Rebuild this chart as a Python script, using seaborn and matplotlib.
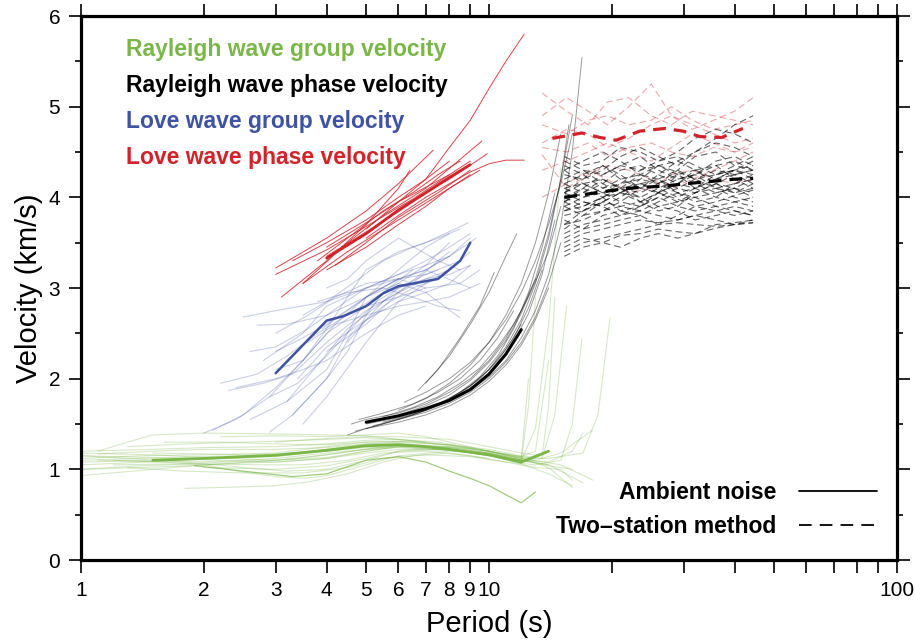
import matplotlib.pyplot as plt
from matplotlib.lines import Line2D
from matplotlib.ticker import MultipleLocator, NullLocator
import pandas as pd
import seaborn as sns

GREEN = "#7ab648"
BLUE = "#3f53a2"
RED = "#d1232a"
BLACK = "#000000"

# ---- Rayleigh wave group velocity (ambient noise, green) ----
rg_periods = [
    [1.0, 1.3, 1.7, 2.2, 3.0, 4.0, 5.0, 6.0, 8.0, 10.0, 12.0],
    [1.0, 1.4, 2.0, 3.0, 4.0, 5.0, 6.5, 8.0, 10.0, 12.0, 13.0],
    [1.0, 1.5, 2.0, 2.5, 3.0, 4.0, 5.0, 6.0, 8.0, 10.0, 12.0],
    [1.1, 1.3, 1.5, 2.0, 3.0, 4.0, 5.0, 6.0, 7.0],
    [1.1, 1.5, 2.0, 3.0, 4.0, 5.0, 6.0, 8.0, 10.0, 12.0, 14.0, 16.0],
    [1.8, 2.2, 2.6, 3.0, 3.6, 4.5, 5.5, 6.5, 8.0, 10.0],
    [1.0, 1.3, 1.8, 2.5, 3.2, 4.0, 5.0, 6.0, 8.0, 10.0, 12.0, 14.0, 17.0],
    [1.2, 1.6, 2.0, 2.5, 3.0, 3.5, 4.0, 5.0, 6.0, 8.0, 10.0, 12.0, 12.5, 13.0],
    [1.0, 1.5, 2.0, 3.0, 4.0, 5.0, 6.0, 7.0, 8.0, 10.0, 12.0, 13.0, 14.0, 15.0],
    [1.3, 1.8, 2.5, 3.0, 4.0, 5.0, 6.0, 8.0, 10.0, 12.0, 13.5, 14.5, 15.5],
    [1.0, 1.4, 2.0, 2.7, 3.5, 4.5, 5.5, 7.0, 9.0, 11.0, 13.0, 15.0, 16.0, 16.9],
    [1.5, 2.0, 2.5, 3.0, 4.0, 5.0, 6.0, 7.0, 9.0, 11.0, 13.0, 15.0, 17.9],
    [2.0, 2.5, 3.0, 4.0, 5.0, 6.0, 7.0, 8.0, 10.0, 12.0, 14.0, 16.0],
    [1.0, 1.5, 2.0, 3.0, 4.0, 5.0, 6.0, 8.0, 10.0, 12.0, 14.0, 17.0, 18.5, 19.8],
    [2.2, 3.0, 4.0, 5.0, 6.0, 7.0, 8.0, 10.0, 11.0, 12.0, 12.5],
    [1.1, 1.6, 2.3, 3.0, 4.0, 5.0, 6.0, 8.0, 10.0, 12.0, 14.0, 16.0, 17.0],
    [3.0, 4.0, 5.0, 6.0, 8.0, 10.0, 12.0, 13.5, 14.0, 14.5],
    [1.3, 1.8, 2.5, 3.5, 4.5, 5.5, 7.0, 9.0, 11.0, 13.0, 15.0, 16.0],
    [1.0, 1.4, 2.0, 3.0, 4.0, 5.0, 6.0, 8.0, 10.0, 12.0, 14.0],
    [1.0, 1.5, 2.0, 3.0, 4.0, 5.0, 6.0, 7.5, 9.0, 11.0, 13.0],
    [1.2, 1.7, 2.3, 3.0, 4.0, 5.0, 6.0, 8.0, 10.0, 12.0, 15.0, 18.0],
    [1.0, 1.4, 1.9, 2.6, 3.4, 4.3, 5.3, 6.5, 8.0, 10.0, 12.0],
    [1.6, 2.2, 3.0, 4.0, 5.0, 6.0, 8.0, 10.0, 12.0, 13.0, 14.0],
    [1.0, 1.5, 2.2, 3.0, 4.0, 5.0, 6.0, 8.0, 10.0, 12.0, 14.0, 16.0],
]
rg_values = [
    [1.05, 1.07, 1.10, 1.12, 1.14, 1.20, 1.26, 1.28, 1.22, 1.15, 1.07],
    [1.12, 1.15, 1.16, 1.18, 1.25, 1.30, 1.31, 1.26, 1.20, 1.12, 1.10],
    [0.93, 1.00, 1.05, 1.07, 1.08, 1.12, 1.20, 1.25, 1.24, 1.18, 1.10],
    [1.20, 1.30, 1.38, 1.40, 1.39, 1.38, 1.37, 1.33, 1.30],
    [1.17, 1.20, 1.22, 1.22, 1.24, 1.28, 1.30, 1.27, 1.20, 1.12, 1.02, 0.80],
    [0.79, 0.80, 0.81, 0.82, 0.86, 0.95, 1.08, 1.15, 1.18, 1.12],
    [1.15, 1.12, 1.08, 1.02, 0.98, 1.00, 1.10, 1.20, 1.22, 1.18, 1.10, 1.05, 0.85],
    [1.10, 1.08, 1.05, 0.97, 0.92, 0.90, 0.93, 1.05, 1.15, 1.20, 1.17, 1.10, 1.70, 2.90],
    [1.08, 1.10, 1.12, 1.15, 1.22, 1.27, 1.28, 1.25, 1.22, 1.15, 1.10, 1.45, 2.60, 4.32],
    [1.25, 1.28, 1.30, 1.31, 1.33, 1.35, 1.33, 1.27, 1.22, 1.15, 1.12, 1.60, 2.80],
    [1.00, 1.04, 1.06, 1.05, 1.05, 1.10, 1.18, 1.20, 1.15, 1.08, 1.05, 1.10, 1.50, 2.44],
    [1.18, 1.17, 1.16, 1.17, 1.20, 1.24, 1.25, 1.23, 1.19, 1.12, 1.10, 1.18, 1.43],
    [1.02, 1.01, 1.00, 1.04, 1.12, 1.20, 1.23, 1.22, 1.16, 1.06, 0.95, 0.82],
    [1.18, 1.16, 1.13, 1.10, 1.13, 1.20, 1.25, 1.25, 1.20, 1.13, 1.12, 1.18, 1.60, 2.67],
    [1.36, 1.37, 1.36, 1.38, 1.40, 1.36, 1.30, 1.20, 1.15, 1.12, 2.00],
    [1.10, 1.08, 1.09, 1.12, 1.18, 1.22, 1.24, 1.21, 1.16, 1.10, 1.08, 1.20, 1.40],
    [1.30, 1.34, 1.36, 1.36, 1.33, 1.25, 1.18, 1.15, 1.70, 2.90],
    [1.02, 0.98, 0.96, 0.96, 1.02, 1.12, 1.16, 1.14, 1.08, 1.02, 1.00, 0.88],
    [1.10, 1.12, 1.14, 1.16, 1.22, 1.28, 1.29, 1.24, 1.18, 1.10, 1.05],
    [1.20, 1.22, 1.24, 1.25, 1.28, 1.32, 1.33, 1.30, 1.24, 1.16, 1.12],
    [1.05, 1.06, 1.08, 1.10, 1.16, 1.22, 1.26, 1.24, 1.18, 1.12, 1.05, 0.88],
    [1.00, 1.02, 1.04, 1.08, 1.12, 1.18, 1.24, 1.27, 1.25, 1.20, 1.14],
    [1.30, 1.30, 1.28, 1.27, 1.30, 1.31, 1.27, 1.20, 1.14, 1.20, 2.20],
    [1.15, 1.13, 1.10, 1.08, 1.12, 1.18, 1.22, 1.22, 1.17, 1.10, 1.04, 1.00],
]
rg_low_periods = [1.9, 2.5, 3.3, 4.0, 5.0, 6.0, 7.0, 8.0, 9.0, 10.0, 11.0, 12.0, 13.0]
rg_low_values = [1.04, 0.98, 0.92, 0.95, 1.10, 1.14, 1.08, 0.98, 0.90, 0.82, 0.72, 0.63, 0.75]
rg_mean_periods = [1.5, 2.0, 3.0, 4.0, 5.0, 6.0, 7.0, 8.0, 10.0, 12.0, 14.0]
rg_mean_values = [1.10, 1.12, 1.155, 1.21, 1.26, 1.27, 1.25, 1.22, 1.16, 1.08, 1.20]

# ---- Rayleigh wave phase velocity (ambient noise, black) ----
rp_periods = [
    [4.5, 5.0, 6.0, 7.0, 8.0, 9.0, 10.0, 11.0, 12.0],
    [4.6, 5.0, 6.0, 7.0, 8.0, 9.0, 10.0, 11.0, 12.0, 13.0],
    [5.0, 6.0, 7.0, 8.0, 9.0, 10.0, 11.0, 12.0, 13.0, 14.0],
    [5.5, 6.5, 7.5, 8.5, 9.5, 10.5, 11.5, 12.5, 14.0, 15.0],
    [6.2, 7.0, 8.0, 9.0, 10.0, 11.0, 12.0, 13.0, 14.0, 15.0, 16.0],
    [6.7, 7.5, 8.5, 9.5, 10.3],
    [7.0, 8.0, 9.0, 10.0, 11.0, 11.7],
    [5.0, 6.0, 7.0, 8.0, 9.0, 10.0, 11.0, 12.0, 13.0, 14.0, 15.0, 16.0, 16.9],
    [4.8, 5.5, 6.5, 7.5, 8.5, 9.5, 10.5, 11.5],
    [5.2, 6.0, 7.0, 8.0, 9.0, 10.0, 11.0, 12.0, 13.0, 14.0, 15.0],
    [6.0, 7.0, 8.0, 9.0, 10.0, 11.0, 12.0, 13.0, 14.0, 15.0, 16.0],
    [7.5, 8.5, 9.5, 10.5, 11.5, 12.5, 13.5, 14.5],
    [8.0, 9.0, 10.0, 11.0, 12.0, 13.0, 14.0, 15.0, 15.7],
    [4.7, 5.5, 6.5, 7.5, 8.5, 9.5, 10.5, 11.5, 12.5, 13.5],
    [5.5, 6.5, 7.5, 8.5, 9.5, 10.5, 11.5, 12.5, 13.5, 14.5],
    [6.0, 7.0, 8.0, 9.0, 10.0, 11.0, 12.0, 13.0, 14.0, 15.0],
]
rp_values = [
    [1.38, 1.45, 1.55, 1.65, 1.78, 1.92, 2.10, 2.32, 2.60],
    [1.50, 1.55, 1.62, 1.72, 1.85, 2.00, 2.20, 2.45, 2.75, 3.10],
    [1.45, 1.52, 1.60, 1.70, 1.82, 1.97, 2.15, 2.37, 2.65, 3.00],
    [1.58, 1.68, 1.80, 1.95, 2.12, 2.35, 2.60, 2.90, 3.40, 3.90],
    [1.74, 1.85, 2.00, 2.18, 2.40, 2.65, 2.95, 3.30, 3.70, 4.15, 4.70],
    [1.87, 2.10, 2.45, 2.80, 3.17],
    [1.95, 2.25, 2.60, 2.95, 3.35, 3.60],
    [1.50, 1.57, 1.65, 1.75, 1.87, 2.02, 2.20, 2.45, 2.75, 3.15, 3.70, 4.50, 5.54],
    [1.55, 1.62, 1.72, 1.85, 2.00, 2.20, 2.45, 2.75],
    [1.48, 1.55, 1.63, 1.73, 1.85, 2.00, 2.18, 2.40, 2.68, 3.05, 3.50],
    [1.60, 1.70, 1.82, 1.98, 2.18, 2.42, 2.72, 3.10, 3.60, 4.20, 4.90],
    [1.72, 1.85, 2.02, 2.25, 2.55, 2.95, 3.45, 4.05],
    [1.78, 1.92, 2.10, 2.35, 2.65, 3.05, 3.55, 4.20, 4.80],
    [1.42, 1.50, 1.60, 1.71, 1.84, 2.00, 2.20, 2.45, 2.78, 3.20],
    [1.52, 1.60, 1.70, 1.82, 1.97, 2.15, 2.40, 2.72, 3.15, 3.75],
    [1.65, 1.78, 1.95, 2.15, 2.40, 2.70, 3.05, 3.50, 4.05, 4.70],
]
rp_mean_periods = [5.0, 6.0, 7.0, 8.0, 9.0, 10.0, 11.0, 12.0]
rp_mean_values = [1.52, 1.59, 1.67, 1.76, 1.88, 2.05, 2.27, 2.54]

# ---- Love wave group velocity (ambient noise, blue) ----
lg_periods = [
    [2.1, 2.5, 3.0, 3.5, 4.0, 5.0, 6.0, 7.0],
    [2.3, 2.8, 3.3, 4.0, 5.0, 6.0, 7.0, 8.0],
    [2.5, 3.0, 4.0, 5.0, 6.0, 7.0, 8.5],
    [2.7, 3.2, 4.0, 5.0, 6.0, 7.0, 8.0],
    [2.9, 3.3, 4.0, 4.6, 5.5, 6.5, 7.5],
    [3.0, 3.5, 4.0, 5.0, 6.0, 7.0, 8.5],
    [3.2, 4.0, 4.5, 5.0, 6.0, 7.0, 9.0],
    [3.0, 3.5, 4.0, 4.5, 5.0, 6.0, 7.0, 8.9],
    [3.5, 4.0, 5.0, 6.0, 7.0, 8.0, 9.0],
    [3.6, 4.2, 5.0, 6.0, 7.0, 8.0, 9.5],
    [4.0, 4.5, 5.0, 6.0, 7.5, 8.5],
    [2.4, 3.0, 3.5, 4.0, 5.0, 6.0, 7.0],
    [3.3, 4.0, 4.5, 5.0, 5.5, 6.0, 7.0, 8.0],
    [4.0, 5.0, 6.0, 7.0, 8.0, 9.0],
    [3.8, 4.5, 5.5, 6.5, 7.5, 8.5],
    [2.8, 3.5, 4.0, 5.0, 6.0, 7.0, 8.0, 9.0],
    [3.4, 4.0, 5.0, 6.0, 7.0, 8.0, 9.0],
    [2.6, 3.2, 3.8, 4.5, 5.5, 6.5, 7.5, 8.0],
    [2.0, 2.4, 2.9, 3.5, 4.2, 5.0, 6.0],
    [2.6, 3.0, 3.6, 4.3, 5.0, 6.0, 7.0, 8.0],
    [3.0, 3.6, 4.2, 5.0, 6.0, 7.0, 8.5, 9.5],
    [2.2, 2.7, 3.2, 3.8, 4.5, 5.5, 6.5],
    [3.5, 4.0, 4.8, 5.5, 6.5, 7.5, 8.5],
    [4.5, 5.0, 5.5, 6.0, 7.0, 8.0, 9.0],
    [2.9, 3.4, 4.0, 4.7, 5.3, 6.0, 7.0, 7.5],
    [3.9, 4.5, 5.2, 6.0, 7.0, 8.0, 9.3],
]
lg_values = [
    [1.43, 1.60, 1.90, 2.20, 2.50, 2.80, 2.90, 3.00],
    [1.87, 1.95, 2.05, 2.40, 2.75, 2.95, 3.10, 3.20],
    [2.68, 2.75, 2.85, 3.00, 3.10, 3.15, 3.30],
    [2.59, 2.60, 2.70, 2.90, 3.20, 3.45, 3.60],
    [1.41, 1.60, 2.00, 2.50, 2.80, 3.00, 3.10],
    [2.30, 2.45, 2.60, 2.90, 3.05, 2.95, 2.67],
    [1.75, 2.10, 2.50, 2.90, 3.10, 3.20, 3.00],
    [2.10, 2.20, 2.55, 2.90, 3.20, 3.40, 3.50, 3.72],
    [1.50, 1.80, 2.40, 2.85, 3.05, 3.20, 3.40],
    [2.40, 2.60, 2.70, 2.80, 2.85, 2.90, 3.05],
    [3.00, 3.10, 3.30, 3.55, 3.30, 3.20],
    [1.90, 2.00, 2.10, 2.20, 2.50, 2.70, 2.80],
    [1.60, 2.00, 2.30, 2.70, 2.95, 3.05, 3.25, 3.50],
    [2.30, 2.60, 2.95, 3.20, 3.35, 3.55],
    [2.85, 2.95, 3.00, 2.90, 2.80, 2.75],
    [2.20, 2.50, 2.80, 3.00, 3.15, 3.30, 3.45, 3.60],
    [2.00, 2.35, 2.65, 2.85, 2.95, 3.05, 3.25],
    [1.55, 1.75, 2.15, 2.55, 2.85, 3.05, 3.30, 3.40],
    [1.40, 1.55, 1.80, 2.20, 2.60, 2.90, 3.10],
    [2.30, 2.35, 2.55, 2.80, 3.00, 3.15, 3.25, 3.35],
    [2.50, 2.70, 2.90, 3.05, 3.10, 3.00, 3.05, 3.20],
    [1.95, 2.05, 2.25, 2.50, 2.70, 2.95, 3.20],
    [2.70, 2.85, 3.10, 3.30, 3.45, 3.55, 3.65],
    [2.40, 2.65, 2.85, 3.00, 3.10, 3.15, 3.25],
    [1.80, 1.95, 2.25, 2.60, 2.85, 3.00, 3.15, 3.20],
    [2.55, 2.75, 2.95, 3.10, 3.20, 3.35, 3.55],
]
lg_mean_periods = [3.0, 4.0, 4.4, 5.0, 5.5, 6.0, 7.5, 8.5, 9.0]
lg_mean_values = [2.06, 2.64, 2.69, 2.80, 2.94, 3.02, 3.10, 3.30, 3.50]

# ---- Love wave phase velocity (ambient noise, red) ----
lp_periods = [
    [3.0, 4.0, 5.0, 6.0, 7.3],
    [3.1, 4.0, 5.0, 6.0, 6.4],
    [3.5, 4.5, 5.5, 7.0, 9.6],
    [4.0, 5.0, 6.0, 7.0, 8.0, 9.9],
    [4.0, 5.0, 6.0, 8.0, 9.0],
    [3.5, 4.5, 6.0, 8.0, 9.0],
    [4.2, 5.0, 6.0, 7.5, 9.0],
    [3.0, 4.0, 5.0, 6.5, 8.0],
    [5.0, 6.0, 7.0, 8.0, 9.0, 10.0, 11.0, 12.2],
    [5.0, 6.0, 7.0, 8.0, 9.0, 10.0, 11.0, 12.2],
    [4.0, 5.0, 6.0, 7.0, 8.0, 9.5],
    [3.3, 4.0, 5.0, 6.0, 7.0, 8.0],
    [3.8, 4.5, 5.5, 6.5, 7.5, 8.5],
]
lp_values = [
    [3.22, 3.55, 3.85, 4.15, 4.52],
    [2.90, 3.30, 3.70, 4.10, 4.30],
    [3.05, 3.50, 3.80, 4.10, 4.62],
    [3.35, 3.62, 3.84, 4.05, 4.20, 4.48],
    [3.45, 3.72, 3.95, 4.25, 4.40],
    [3.05, 3.40, 3.75, 4.10, 4.25],
    [3.25, 3.50, 3.78, 4.05, 4.30],
    [3.15, 3.42, 3.68, 3.98, 4.25],
    [3.65, 3.95, 4.20, 4.55, 4.85, 5.20, 5.50, 5.80],
    [3.55, 3.80, 4.00, 4.15, 4.28, 4.37, 4.41, 4.41],
    [3.20, 3.45, 3.70, 3.90, 4.10, 4.30],
    [3.30, 3.50, 3.75, 4.00, 4.20, 4.40],
    [3.30, 3.55, 3.85, 4.05, 4.25, 4.40],
]
lp_mean_periods = [4.0, 5.0, 6.0, 7.0, 8.0, 9.0]
lp_mean_values = [3.33, 3.60, 3.86, 4.05, 4.22, 4.36]

# ---- Two-station method (dashed) ----
ts_black_grid = [15.3, 17.0, 19.0, 21.0, 23.5, 26.0, 29.0, 32.0, 36.0, 40.0, 44.4]
ts_black_values = [
    [3.95, 4.05, 4.20, 4.10, 3.95, 4.05, 4.25, 4.30, 4.15, 4.05, 4.10],
    [4.20, 4.30, 4.15, 4.05, 4.20, 4.35, 4.25, 4.10, 4.20, 4.30, 4.25],
    [3.80, 3.85, 3.95, 4.05, 4.00, 3.90, 3.95, 4.05, 4.10, 4.00, 3.95],
    [4.40, 4.30, 4.25, 4.35, 4.45, 4.30, 4.20, 4.25, 4.40, 4.45, 4.35],
    [3.60, 3.70, 3.75, 3.80, 3.85, 3.80, 3.75, 3.80, 3.85, 3.90, 3.85],
    [3.40, 3.50, 3.55, 3.60, 3.65, 3.70, 3.72, 3.70, 3.68, 3.70, 3.75],
    [4.05, 3.95, 3.90, 4.00, 4.15, 4.20, 4.05, 3.95, 4.00, 4.15, 4.20],
    [4.30, 4.40, 4.50, 4.40, 4.25, 4.15, 4.30, 4.45, 4.50, 4.35, 4.30],
    [3.90, 4.00, 4.10, 4.20, 4.25, 4.20, 4.10, 4.05, 4.15, 4.25, 4.30],
    [3.70, 3.75, 3.85, 3.90, 3.85, 3.95, 4.05, 4.00, 3.90, 3.85, 3.80],
    [4.10, 4.15, 4.05, 3.95, 3.90, 4.00, 4.10, 4.20, 4.30, 4.25, 4.15],
    [3.50, 3.60, 3.65, 3.70, 3.75, 3.72, 3.75, 3.80, 3.75, 3.70, 3.72],
    [4.00, 4.10, 4.25, 4.35, 4.30, 4.40, 4.45, 4.35, 4.25, 4.30, 4.40],
    [3.85, 3.90, 4.00, 4.10, 4.15, 4.05, 3.95, 4.00, 4.05, 4.10, 4.05],
    [4.15, 4.25, 4.35, 4.25, 4.10, 4.05, 4.15, 4.30, 4.35, 4.20, 4.10],
    [3.75, 3.65, 3.70, 3.75, 3.80, 3.90, 3.85, 3.75, 3.80, 3.85, 3.80],
    [4.25, 4.20, 4.30, 4.45, 4.55, 4.45, 4.35, 4.50, 4.60, 4.55, 4.45],
    [3.95, 4.10, 4.00, 3.85, 3.90, 4.05, 4.15, 4.10, 4.00, 3.95, 4.00],
    [3.45, 3.55, 3.50, 3.58, 3.60, 3.65, 3.62, 3.60, 3.66, 3.70, 3.72],
    [4.05, 4.20, 4.35, 4.20, 4.10, 4.25, 4.40, 4.50, 4.65, 4.80, 4.90],
    [3.90, 3.80, 3.85, 3.95, 4.10, 4.20, 4.30, 4.20, 4.10, 4.15, 4.25],
    [4.10, 4.00, 4.05, 4.15, 4.20, 4.15, 4.05, 4.10, 4.20, 4.30, 4.35],
    [3.65, 3.80, 3.95, 3.90, 3.95, 4.05, 3.98, 3.90, 3.95, 4.02, 4.08],
    [4.35, 4.25, 4.10, 4.15, 4.30, 4.35, 4.28, 4.20, 4.25, 4.35, 4.45],
    [4.45, 4.35, 4.40, 4.55, 4.50, 4.40, 4.50, 4.65, 4.75, 4.70, 4.60],
    [3.55, 3.65, 3.80, 3.85, 3.80, 3.70, 3.80, 3.90, 3.85, 3.80, 3.85],
    [4.00, 3.90, 4.00, 4.10, 4.05, 4.15, 4.25, 4.15, 4.05, 4.10, 4.20],
    [4.15, 4.05, 4.15, 4.30, 4.35, 4.25, 4.15, 4.25, 4.35, 4.40, 4.30],
    [3.85, 3.95, 3.90, 3.80, 3.90, 4.00, 3.90, 3.85, 3.90, 3.95, 3.90],
    [3.70, 3.85, 4.00, 4.05, 3.95, 3.85, 3.90, 4.05, 4.15, 4.10, 4.00],
    [4.30, 4.15, 4.05, 4.10, 4.25, 4.35, 4.40, 4.30, 4.20, 4.25, 4.30],
    [3.35, 3.45, 3.50, 3.45, 3.55, 3.60, 3.55, 3.60, 3.70, 3.72, 3.75],
    [4.05, 4.15, 4.20, 4.10, 4.00, 4.10, 4.20, 4.25, 4.10, 4.05, 4.15],
    [3.95, 3.85, 3.95, 4.05, 4.15, 4.10, 4.00, 4.10, 4.25, 4.30, 4.20],
]
ts_black_mean = [4.00, 4.03, 4.06, 4.09, 4.11, 4.12, 4.14, 4.16, 4.18, 4.20, 4.21]

ts_red_grid = [13.5, 15.5, 17.5, 19.5, 22.0, 25.0, 28.0, 31.5, 35.5, 40.0, 44.4]
ts_red_values = [
    [4.90, 5.10, 4.95, 4.80, 5.00, 5.25, 4.90, 4.75, 4.85, 4.95, 5.10],
    [5.15, 4.95, 4.80, 5.05, 5.10, 4.90, 4.80, 4.95, 4.90, 4.85, 4.80],
    [4.55, 4.50, 4.60, 4.45, 4.55, 4.60, 4.50, 4.45, 4.55, 4.50, 4.60],
    [4.30, 4.40, 4.50, 4.60, 4.50, 4.40, 4.55, 4.70, 4.60, 4.50, 4.55],
    [4.80, 4.70, 4.85, 4.90, 4.80, 4.85, 5.00, 4.85, 4.75, 4.80, 4.85],
    [4.47, 4.10, 4.25, 4.35, 4.30, 4.20, 4.10, 4.20, 4.30, 4.40, 4.50],
    [4.00, 4.15, 4.30, 4.20, 4.05, 4.10, 4.25, 4.30, 4.20, 4.15, 4.20],
    [4.60, 4.75, 4.70, 4.55, 4.65, 4.80, 4.90, 4.80, 4.70, 4.60, 4.65],
]
ts_red_mean_periods = [14.3, 16.9, 18.7, 20.5, 23.4, 27.0, 29.9, 32.9, 37.2, 41.9]
ts_red_mean_values = [4.65, 4.71, 4.66, 4.63, 4.73, 4.76, 4.73, 4.67, 4.66, 4.76]

x_ticks = [1, 2, 3, 4, 5, 6, 7, 8, 9, 10, 20, 30, 40, 50, 60, 70, 80, 90, 100]
x_tick_labels = ["1", "2", "3", "4", "5", "6", "7", "8", "9", "10",
                 "", "", "", "", "", "", "", "", "100"]
y_ticks = [0, 1, 2, 3, 4, 5, 6]

wave_labels = ["Rayleigh wave group velocity", "Rayleigh wave phase velocity",
               "Love wave group velocity", "Love wave phase velocity"]
method_labels = ["Ambient noise", "Two\u2013station method"]

sns.set_style("ticks", {"axes.edgecolor": "black", "xtick.color": "black",
                        "ytick.color": "black", "text.color": "black",
                        "axes.labelcolor": "black"})
plt.rcParams["font.family"] = ["Liberation Sans", "DejaVu Sans"]

fig = plt.figure(figsize=(9.15, 6.4), dpi=100)
ax = fig.add_axes([0.0885, 0.125, 0.8918, 0.85])


def draw(periods, values, color, lw, alpha, ls="-"):
    rows = []
    for i, (ps, vs) in enumerate(zip(periods, values)):
        rows += [(i, p, v) for p, v in zip(ps, vs)]
    df = pd.DataFrame(rows, columns=["curve", "period", "velocity"])
    sns.lineplot(data=df, x="period", y="velocity", units="curve", estimator=None,
                 sort=False, color=color, lw=lw, alpha=alpha, linestyle=ls,
                 legend=False, ax=ax)


thin_dash = (0, (6, 3.5))
thick_dash = (0, (4, 2.5))

draw(rg_periods, rg_values, GREEN, 0.8, 0.3)
draw([rg_low_periods], [rg_low_values], GREEN, 0.9, 0.7)
draw(lg_periods, lg_values, BLUE, 0.8, 0.28)
draw(lp_periods, lp_values, RED, 0.7, 0.85)
draw(rp_periods, rp_values, BLACK, 0.7, 0.4)
draw([ts_red_grid] * len(ts_red_values), ts_red_values, RED, 0.8, 0.4, thin_dash)
draw([ts_black_grid] * len(ts_black_values), ts_black_values, BLACK, 0.8, 0.6, thin_dash)

draw([rg_mean_periods], [rg_mean_values], GREEN, 2.0, 1.0)
draw([rp_mean_periods], [rp_mean_values], BLACK, 2.2, 1.0)
draw([lg_mean_periods], [lg_mean_values], BLUE, 1.8, 1.0)
draw([lp_mean_periods], [lp_mean_values], RED, 2.0, 1.0)
draw([ts_red_mean_periods], [ts_red_mean_values], RED, 2.3, 1.0, thick_dash)
draw([ts_black_grid], [ts_black_mean], BLACK, 2.3, 1.0, thick_dash)

ax.set_xscale("log")
ax.set_xlim(1, 100)
ax.set_ylim(0, 6)
ax.set_xticks(x_ticks)
ax.set_xticklabels(x_tick_labels)
ax.xaxis.set_minor_locator(NullLocator())
ax.set_yticks(y_ticks)
ax.yaxis.set_minor_locator(MultipleLocator(0.5))
ax.tick_params(which="both", direction="out", top=True, right=True,
               labelsize=15, width=1.2, colors="black")
ax.tick_params(which="major", length=9, pad=6)
ax.tick_params(which="minor", length=4.5)
for sp in ax.spines.values():
    sp.set_linewidth(2.3)

ax.set_xlabel("Period (s)", fontsize=21, labelpad=7)
ax.set_ylabel("Velocity (km/s)", fontsize=21, labelpad=4)

wave_handles = [Line2D([], [], color=c) for c in (GREEN, BLACK, BLUE, RED)]
leg1 = ax.legend(wave_handles, wave_labels, loc="upper left",
                 bbox_to_anchor=(0.055, 0.959), frameon=False, handlelength=0,
                 handletextpad=0, borderpad=0, borderaxespad=0, labelspacing=0.57,
                 labelcolor="linecolor", prop={"weight": "bold", "size": 16.5})
ax.add_artist(leg1)

method_handles = [Line2D([], [], color="black", lw=1.3),
                  Line2D([], [], color="black", lw=1.3, linestyle=(0, (7, 4.5)))]
ax.legend(method_handles, method_labels, loc="lower right",
          bbox_to_anchor=(0.976, 0.041), frameon=False, markerfirst=False,
          handlelength=3.4, handletextpad=1.0, borderpad=0, borderaxespad=0,
          labelspacing=0.45, prop={"weight": "bold", "size": 16.5})

fig.savefig("out.png", dpi=100)
